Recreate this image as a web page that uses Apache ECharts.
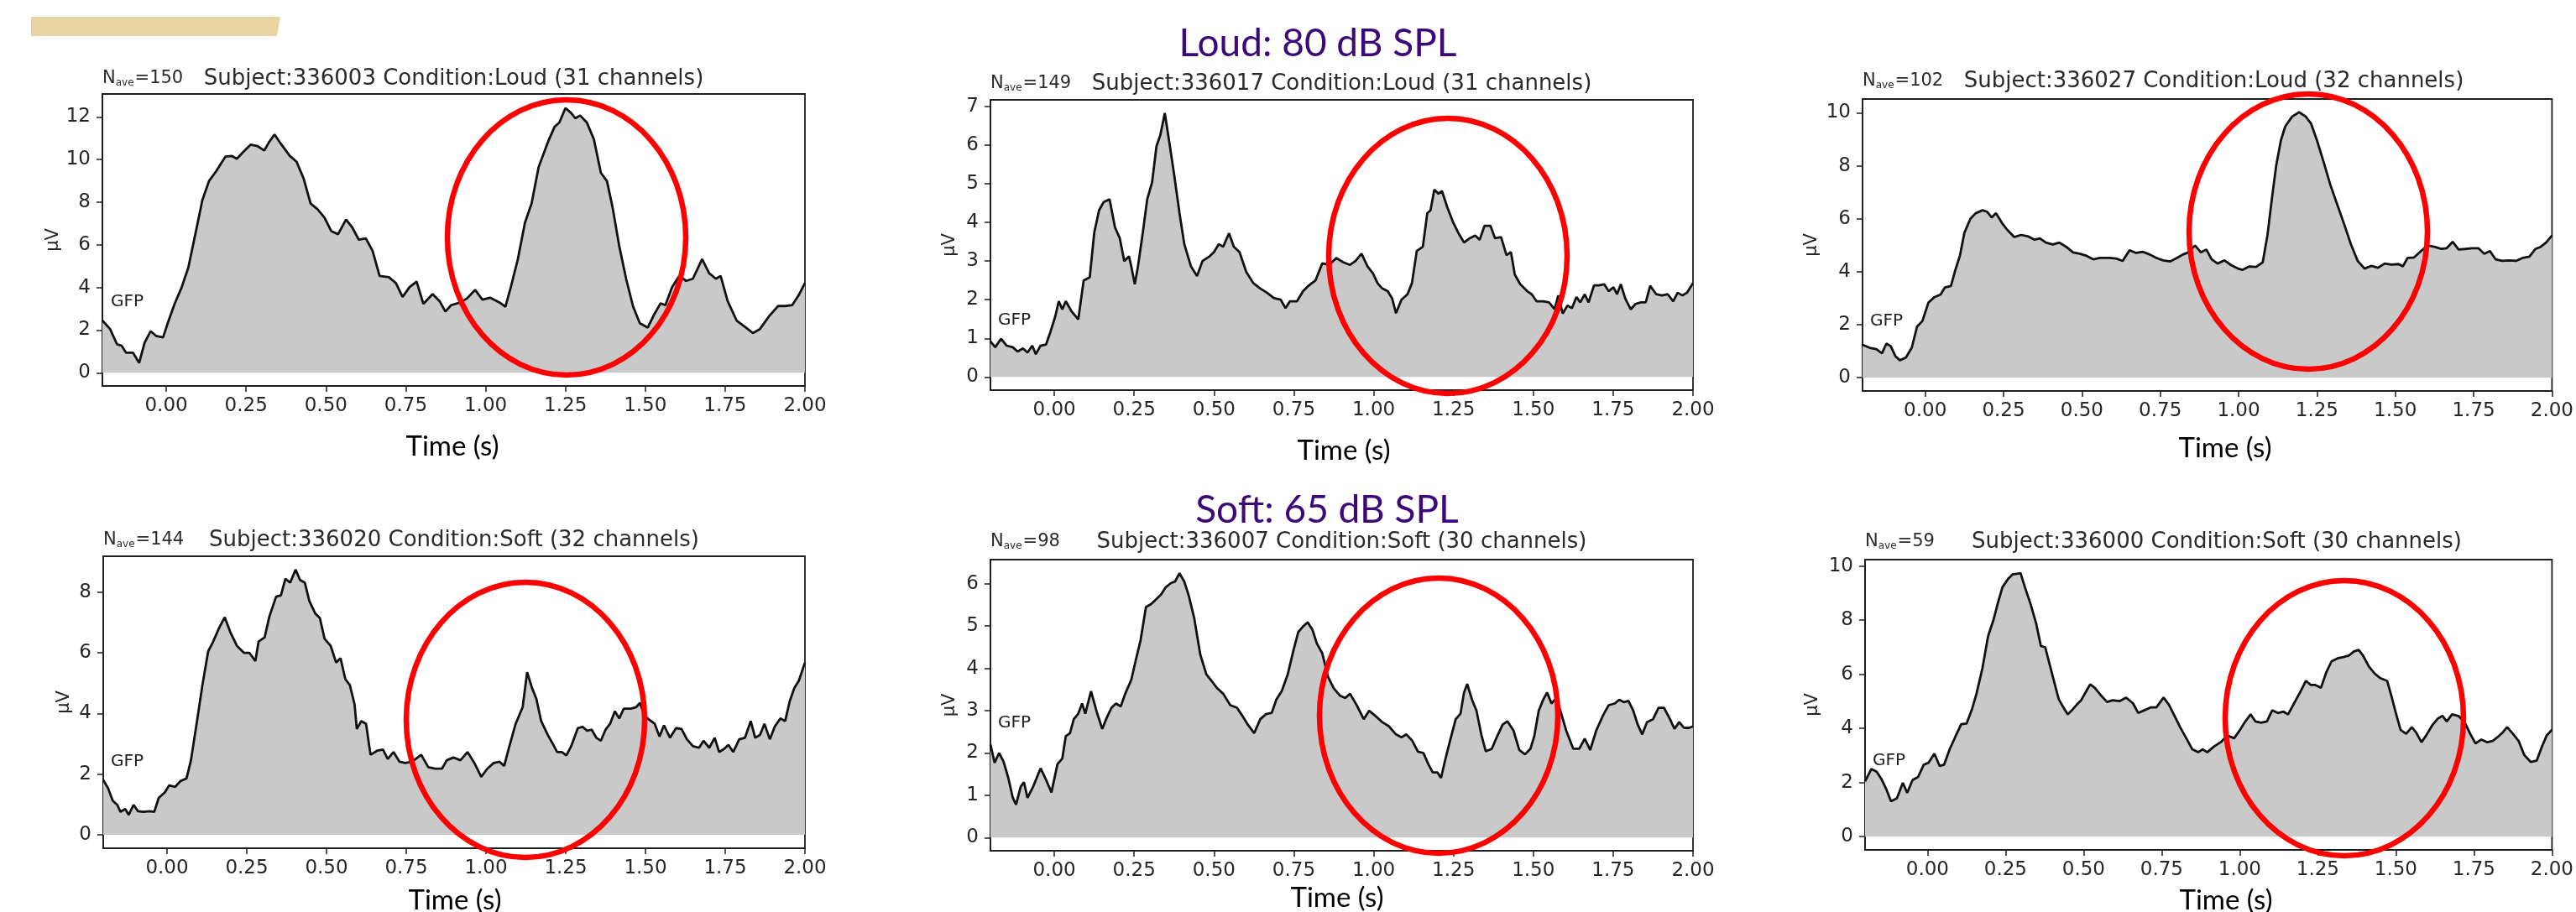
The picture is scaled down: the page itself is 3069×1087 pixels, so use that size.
<!DOCTYPE html>
<html><head><meta charset="utf-8">
<script src="https://cdn.jsdelivr.net/npm/echarts@6/dist/echarts.min.js"></script>
<style>html,body{margin:0;padding:0;background:#fff}#c{width:3069px;height:1087px}</style>
</head><body><div id="c"></div>
<script>
// ---------- data ----------
const xTicks = [0, 0.25, 0.5, 0.75, 1.0, 1.25, 1.5, 1.75, 2.0];

const subjects = ["336003", "336017", "336027", "336020", "336007", "336000"];
const conditions = ["Loud", "Loud", "Loud", "Soft", "Soft", "Soft"];
const channels = [31, 31, 32, 32, 30, 30];
const nAve = [150, 149, 102, 144, 98, 59];

const yTicks1 = [0, 2, 4, 6, 8, 10, 12];
const yTicks2 = [0, 1, 2, 3, 4, 5, 6, 7];
const yTicks3 = [0, 2, 4, 6, 8, 10];
const yTicks4 = [0, 2, 4, 6, 8];
const yTicks5 = [0, 1, 2, 3, 4, 5, 6];
const yTicks6 = [0, 2, 4, 6, 8, 10];

const time1 = [-0.2,-0.176,-0.154,-0.140,-0.126,-0.104,-0.085,-0.068,-0.049,-0.032,-0.010,0.004,0.026,0.048,0.069,0.091,0.113,0.134,0.156,0.185,0.206,0.221,0.242,0.264,0.286,0.307,0.322,0.339,0.358,0.387,0.408,0.430,0.452,0.473,0.495,0.517,0.538,0.563,0.582,0.603,0.625,0.646,0.668,0.697,0.719,0.740,0.762,0.784,0.805,0.834,0.856,0.874,0.892,0.921,0.942,0.967,0.990,1.014,1.043,1.062,1.079,1.101,1.123,1.144,1.166,1.195,1.216,1.231,1.250,1.267,1.281,1.296,1.317,1.339,1.361,1.380,1.397,1.418,1.440,1.462,1.483,1.508,1.527,1.548,1.563,1.584,1.606,1.628,1.649,1.678,1.700,1.721,1.736,1.758,1.786,1.815,1.837,1.859,1.887,1.916,1.938,1.960,1.980,2.0];
const gfp1 = [2.45,2.05,1.33,1.27,0.94,0.94,0.46,1.4,1.95,1.73,1.66,2.3,3.23,4.0,4.93,6.5,8.1,9.0,9.45,10.14,10.17,10.04,10.37,10.7,10.63,10.43,10.82,11.18,10.76,10.17,9.9,9.12,7.94,7.68,7.29,6.64,6.5,7.19,6.83,6.24,6.3,5.72,4.54,4.48,4.21,3.56,4.02,4.28,3.23,3.69,3.36,2.87,3.17,3.3,3.49,3.89,3.43,3.52,3.3,3.1,4.02,5.33,7.03,7.94,9.65,10.82,11.54,11.74,12.42,12.2,11.94,12.07,11.74,10.96,9.38,8.99,7.81,5.98,4.41,3.1,2.32,2.12,2.71,3.26,3.17,4.02,4.54,4.31,4.41,5.33,4.67,4.41,4.54,3.36,2.45,2.12,1.86,2.05,2.64,3.13,3.13,3.17,3.63,4.21];

const time2 = [-0.200,-0.185,-0.167,-0.149,-0.130,-0.115,-0.098,-0.084,-0.069,-0.058,-0.043,-0.026,-0.012,0.003,0.014,0.025,0.036,0.053,0.075,0.092,0.111,0.125,0.140,0.154,0.173,0.190,0.205,0.219,0.234,0.241,0.252,0.262,0.277,0.291,0.306,0.320,0.332,0.346,0.360,0.375,0.392,0.407,0.428,0.447,0.464,0.486,0.500,0.515,0.529,0.547,0.562,0.580,0.601,0.623,0.645,0.666,0.688,0.709,0.724,0.738,0.760,0.779,0.796,0.818,0.839,0.861,0.883,0.904,0.926,0.943,0.962,0.981,0.998,1.012,1.027,1.044,1.058,1.070,1.087,1.106,1.120,1.135,1.154,1.168,1.178,1.190,1.203,1.214,1.231,1.250,1.265,1.283,1.301,1.318,1.332,1.347,1.366,1.380,1.399,1.416,1.430,1.442,1.459,1.481,1.495,1.510,1.531,1.549,1.567,1.578,1.592,1.607,1.621,1.635,1.647,1.661,1.673,1.690,1.705,1.722,1.736,1.751,1.762,1.774,1.788,1.805,1.820,1.837,1.852,1.866,1.885,1.903,1.921,1.938,1.952,1.967,1.981,2.000];
const gfp2 = [0.92,0.77,0.99,0.81,0.77,0.66,0.74,0.63,0.81,0.59,0.81,0.84,1.17,1.57,1.96,1.75,1.96,1.71,1.49,2.5,2.58,3.73,4.31,4.52,4.6,3.87,3.59,3.0,3.12,2.86,2.4,2.86,3.73,4.6,5.03,5.97,6.26,6.83,6.08,5.25,4.24,3.44,2.86,2.61,3.0,3.12,3.23,3.44,3.37,3.72,3.37,3.23,2.72,2.43,2.29,2.18,2.04,2.0,1.78,1.96,1.96,2.22,2.36,2.5,2.94,2.9,3.08,2.97,2.9,3.0,3.19,2.86,2.68,2.43,2.29,2.22,2.03,1.65,2.0,2.14,2.43,3.26,3.37,4.24,4.31,4.85,4.74,4.81,4.38,3.98,3.73,3.48,3.59,3.66,3.55,3.91,3.91,3.59,3.62,3.15,3.23,2.65,2.4,2.22,2.14,1.96,1.96,1.93,1.75,2.11,1.64,1.85,1.78,2.07,1.93,2.14,1.93,2.37,2.37,2.4,2.22,2.32,2.14,2.4,2.03,1.75,1.89,1.93,1.93,2.36,2.14,2.11,2.14,1.96,2.18,2.11,2.18,2.43];

const time3 = [-0.200,-0.177,-0.156,-0.138,-0.124,-0.110,-0.095,-0.081,-0.062,-0.043,-0.026,-0.009,0.010,0.029,0.049,0.063,0.082,0.097,0.111,0.125,0.144,0.161,0.183,0.198,0.212,0.226,0.245,0.262,0.284,0.306,0.327,0.349,0.366,0.385,0.407,0.428,0.450,0.472,0.493,0.515,0.536,0.558,0.587,0.609,0.630,0.652,0.673,0.695,0.717,0.738,0.760,0.782,0.803,0.822,0.839,0.861,0.880,0.897,0.914,0.933,0.955,0.976,0.998,1.012,1.034,1.056,1.077,1.092,1.106,1.120,1.135,1.149,1.171,1.193,1.214,1.231,1.250,1.272,1.293,1.315,1.337,1.358,1.380,1.402,1.423,1.445,1.466,1.488,1.510,1.524,1.539,1.560,1.582,1.603,1.625,1.647,1.664,1.683,1.702,1.722,1.745,1.765,1.784,1.802,1.820,1.841,1.863,1.885,1.906,1.928,1.947,1.964,1.981,2.000];
const gfp3 = [1.24,1.13,1.08,0.92,1.29,1.19,0.81,0.66,0.76,1.13,1.93,2.14,2.83,3.04,3.14,3.41,3.46,4.1,4.62,5.47,6.0,6.21,6.32,6.26,6.05,6.21,5.84,5.58,5.31,5.39,5.34,5.21,5.26,5.1,5.03,5.1,4.94,4.73,4.68,4.6,4.47,4.52,4.52,4.5,4.41,4.81,4.71,4.75,4.65,4.52,4.43,4.39,4.52,4.65,4.73,4.99,4.73,4.84,4.47,4.31,4.43,4.25,4.12,4.07,4.2,4.18,4.36,5.37,6.74,8.01,8.96,9.49,9.86,10.02,9.86,9.6,8.96,8.12,7.27,6.53,5.79,5.05,4.41,4.12,4.22,4.15,4.31,4.27,4.29,4.2,4.52,4.54,4.78,4.99,4.94,4.86,4.89,5.13,4.84,4.86,4.89,4.89,4.68,4.78,4.47,4.41,4.43,4.41,4.52,4.57,4.86,4.94,5.1,5.37];

const time4 = [-0.200,-0.185,-0.170,-0.156,-0.146,-0.131,-0.120,-0.105,-0.091,-0.074,-0.055,-0.040,-0.026,-0.007,0.007,0.025,0.042,0.061,0.075,0.094,0.111,0.129,0.143,0.162,0.181,0.198,0.219,0.241,0.258,0.277,0.287,0.306,0.321,0.342,0.357,0.371,0.386,0.403,0.417,0.432,0.446,0.465,0.479,0.494,0.513,0.530,0.544,0.559,0.573,0.588,0.595,0.609,0.624,0.638,0.660,0.677,0.692,0.710,0.729,0.747,0.768,0.797,0.819,0.840,0.862,0.877,0.898,0.920,0.942,0.963,0.985,1.004,1.024,1.043,1.057,1.071,1.093,1.115,1.129,1.144,1.158,1.173,1.194,1.209,1.223,1.238,1.252,1.267,1.288,1.303,1.317,1.331,1.346,1.360,1.375,1.389,1.404,1.418,1.432,1.454,1.471,1.483,1.497,1.512,1.529,1.544,1.558,1.577,1.596,1.613,1.630,1.649,1.668,1.682,1.700,1.717,1.731,1.746,1.760,1.775,1.794,1.812,1.830,1.844,1.859,1.873,1.890,1.905,1.923,1.938,1.952,1.967,1.981,2.000];
const gfp4 = [1.81,1.54,1.12,0.99,0.76,0.85,0.66,0.99,0.78,0.76,0.78,0.76,1.22,1.4,1.63,1.58,1.77,1.86,2.46,3.75,4.94,6.05,6.33,6.79,7.17,6.69,6.23,6.0,6.0,5.73,6.37,6.51,7.2,7.85,7.89,8.44,8.31,8.74,8.4,8.31,7.71,7.29,7.15,6.46,6.23,5.68,5.82,5.13,4.94,4.3,3.49,3.75,3.66,2.64,2.78,2.81,2.5,2.73,2.41,2.37,2.41,2.64,2.23,2.18,2.18,2.46,2.55,2.46,2.73,2.38,1.91,2.18,2.37,2.41,2.27,2.83,3.66,4.21,5.36,4.85,4.48,3.75,3.29,3.01,2.73,2.73,2.62,2.92,3.52,3.56,3.43,3.47,3.2,3.1,3.47,3.66,4.07,3.84,4.16,4.16,4.21,4.35,3.93,3.79,3.66,3.24,3.61,3.2,3.52,3.49,3.15,2.92,2.87,3.1,2.87,3.2,2.73,2.83,2.97,2.73,3.15,3.2,3.75,3.2,3.29,3.66,3.15,3.56,3.84,3.75,4.39,4.85,5.08,5.68];

const time5 = [-0.200,-0.187,-0.173,-0.159,-0.144,-0.130,-0.120,-0.105,-0.095,-0.084,-0.066,-0.043,-0.026,-0.009,0.010,0.025,0.036,0.049,0.061,0.075,0.087,0.097,0.115,0.133,0.150,0.164,0.179,0.193,0.208,0.222,0.241,0.255,0.270,0.287,0.303,0.317,0.335,0.349,0.366,0.378,0.392,0.407,0.421,0.438,0.457,0.476,0.493,0.510,0.529,0.551,0.572,0.587,0.606,0.626,0.645,0.663,0.681,0.695,0.712,0.731,0.750,0.764,0.779,0.793,0.808,0.822,0.839,0.857,0.875,0.894,0.911,0.926,0.947,0.969,0.986,1.005,1.027,1.048,1.070,1.087,1.102,1.120,1.139,1.156,1.171,1.185,1.200,1.211,1.226,1.243,1.257,1.272,1.283,1.293,1.308,1.322,1.337,1.351,1.370,1.387,1.404,1.419,1.438,1.456,1.474,1.491,1.503,1.517,1.531,1.543,1.557,1.572,1.586,1.603,1.625,1.644,1.661,1.678,1.697,1.719,1.736,1.755,1.769,1.784,1.798,1.813,1.827,1.841,1.856,1.875,1.892,1.909,1.928,1.942,1.957,1.971,1.986,2.000];
const gfp5 = [2.2,1.77,2.0,1.8,1.41,0.94,0.78,1.21,1.31,0.94,1.21,1.64,1.37,1.07,1.74,1.87,2.4,2.47,2.8,2.93,3.17,2.93,3.46,2.97,2.57,2.83,3.07,3.17,3.1,3.4,3.73,4.19,4.66,5.45,5.52,5.62,5.75,5.92,6.02,6.05,6.25,6.05,5.72,5.19,4.33,3.86,3.7,3.53,3.4,3.13,3.07,2.9,2.67,2.47,2.8,2.92,2.95,3.26,3.46,3.86,4.46,4.86,4.99,5.09,4.92,4.59,4.36,3.8,3.53,3.36,3.3,3.4,3.13,2.8,3.0,2.88,2.73,2.63,2.44,2.37,2.44,2.3,2.03,2.0,1.74,1.54,1.54,1.41,1.9,2.4,2.8,2.93,3.43,3.63,3.26,3.0,2.44,2.04,2.1,2.4,2.67,2.75,2.53,2.07,1.97,2.1,2.4,3.0,3.26,3.43,3.17,3.3,2.97,2.53,2.1,2.1,2.34,2.07,2.53,2.9,3.13,3.17,3.26,3.2,3.23,3.0,2.67,2.44,2.73,2.8,3.07,3.07,2.8,2.57,2.73,2.6,2.59,2.63];

const time6 = [-0.200,-0.180,-0.163,-0.148,-0.131,-0.117,-0.098,-0.079,-0.065,-0.048,-0.030,-0.012,0.003,0.022,0.039,0.053,0.071,0.089,0.108,0.125,0.143,0.157,0.176,0.194,0.212,0.226,0.240,0.258,0.272,0.287,0.298,0.312,0.330,0.348,0.363,0.377,0.392,0.406,0.420,0.435,0.449,0.464,0.478,0.492,0.507,0.521,0.536,0.554,0.575,0.593,0.615,0.636,0.658,0.675,0.694,0.716,0.733,0.756,0.773,0.791,0.809,0.831,0.848,0.867,0.881,0.896,0.917,0.939,0.960,0.982,1.001,1.018,1.035,1.050,1.068,1.087,1.104,1.122,1.140,1.155,1.174,1.194,1.212,1.227,1.241,1.260,1.277,1.294,1.313,1.332,1.349,1.366,1.381,1.395,1.414,1.433,1.450,1.472,1.486,1.500,1.515,1.533,1.551,1.565,1.582,1.597,1.616,1.634,1.649,1.663,1.680,1.702,1.721,1.738,1.755,1.774,1.793,1.810,1.827,1.842,1.856,1.875,1.893,1.911,1.932,1.951,1.968,1.983,2.000];
const gfp6 = [2.04,2.5,2.4,2.14,1.73,1.31,1.42,1.99,1.62,2.09,2.21,2.66,2.73,3.07,2.61,2.66,3.23,3.69,4.16,4.18,4.73,5.29,6.23,7.41,8.04,8.66,9.22,9.53,9.69,9.72,9.74,9.22,8.6,7.88,7.05,7.0,6.33,5.71,5.09,4.78,4.52,4.69,4.88,5.04,5.35,5.63,5.5,5.24,4.98,5.04,5.01,5.14,4.93,4.57,4.67,4.78,4.78,5.14,4.88,4.47,4.05,3.59,3.23,3.12,3.23,3.12,3.33,3.49,3.74,3.64,3.95,4.26,4.52,4.26,4.21,4.26,4.67,4.57,4.62,4.52,4.93,5.35,5.76,5.61,5.61,5.5,6.07,6.48,6.59,6.64,6.69,6.85,6.9,6.69,6.28,6.02,5.86,5.76,5.19,4.57,3.95,3.8,4.05,3.85,3.49,3.74,4.11,4.36,4.47,4.26,4.52,4.45,4.21,3.8,3.45,3.59,3.49,3.54,3.69,3.85,4.05,3.8,3.54,3.02,2.76,2.81,3.33,3.74,3.95];

// ---------- layout / style ----------
const times = [time1, time2, time3, time4, time5, time6];
const gfps = [gfp1, gfp2, gfp3, gfp4, gfp5, gfp6];
const yTicks = [yTicks1, yTicks2, yTicks3, yTicks4, yTicks5, yTicks6];
const yMin = [-0.62, -0.34, -0.5, -0.44, -0.31, -0.49];
const yMax = [13.08, 7.17, 10.52, 9.18, 6.57, 10.24];
const grids = [
  {left: 122, top: 112, width: 837, height: 348},
  {left: 1180, top: 119, width: 837, height: 346},
  {left: 2219, top: 118, width: 837, height: 348},
  {left: 123, top: 663, width: 836, height: 348},
  {left: 1180, top: 667, width: 837, height: 347},
  {left: 2222, top: 667, width: 838, height: 346}
];
const nameGaps = [48, 38, 50, 36, 38, 52];
const titleY = [94, 100, 97, 644, 646, 646];
const gfpPos = [[132,360],[1189,382],[2228,383],[132,908],[1189,862],[2231,907]];
const timeLabelPos = [[539,532],[1601,537],[2651,534],[542,1073],[1593,1070],[2652,1073]];
const ellipses = [[675,283],[1725,305],[2750,276],[626,858],[1714,853],[2793,856]];

const MPL = '"DejaVu Sans", sans-serif';
const SLIDE = 'Lato, "Open Sans", sans-serif';
const INK = '#1e1e1e';

const option = {
  animation: false,
  backgroundColor: '#ffffff',
  grid: [], xAxis: [], yAxis: [], series: [], graphic: []
};

for (let i = 0; i < 6; i++) {
  const g = grids[i];
  option.grid.push(Object.assign({show: true, borderColor: INK, borderWidth: 1.8, backgroundColor: '#fff', containLabel: false}, g));
  option.xAxis.push({
    type: 'value', gridIndex: i, min: -0.2, max: 2.0,
    axisLine: {show: true, onZero: false, lineStyle: {color: INK, width: 1.8}},
    axisTick: {show: true, length: 7, customValues: xTicks, lineStyle: {color: INK, width: 1.5}},
    axisLabel: {show: true, customValues: xTicks, margin: 13, fontFamily: MPL, fontSize: 23, color: '#262626',
      formatter: v => v.toFixed(2)},
    splitLine: {show: false}
  });
  option.yAxis.push({
    type: 'value', gridIndex: i, min: yMin[i], max: yMax[i],
    name: 'µV', nameLocation: 'middle', nameRotate: 90, nameGap: nameGaps[i],
    nameTextStyle: {fontFamily: MPL, fontSize: 21, color: '#262626'},
    axisLine: {show: true, onZero: false, lineStyle: {color: INK, width: 1.8}},
    axisTick: {show: true, length: 7, customValues: yTicks[i], lineStyle: {color: INK, width: 1.5}},
    axisLabel: {show: true, customValues: yTicks[i], margin: 14, fontFamily: MPL, fontSize: 23, color: '#262626'},
    splitLine: {show: false}
  });
  option.series.push({
    type: 'line', xAxisIndex: i, yAxisIndex: i,
    data: times[i].map((t, k) => [t, gfps[i][k]]),
    showSymbol: false, symbol: 'none', smooth: false, clip: true,
    lineStyle: {color: '#111', width: 2.8},
    areaStyle: {color: '#c9c9c9', opacity: 1, origin: 0},
    z: 2
  });
  // panel title
  option.graphic.push({
    type: 'text', z: 10,
    style: {text: 'Subject:' + subjects[i] + ' Condition:' + conditions[i] + ' (' + channels[i] + ' channels)',
      x: g.left + g.width / 2, y: titleY[i], align: 'center', verticalAlign: 'middle',
      font: '26px ' + MPL, fill: '#2a2a2a'}
  });
  option.graphic.push({
    type: 'text', z: 10,
    style: {text: '{n|N}{s|ave}{n|=' + nAve[i] + '}',
      x: g.left, y: titleY[i], align: 'left', verticalAlign: 'middle',
      rich: {
        n: {fontSize: 21, fontFamily: MPL, fill: '#2a2a2a', lineHeight: 27, verticalAlign: 'middle'},
        s: {fontSize: 12, fontFamily: MPL, fill: '#2a2a2a', lineHeight: 12, verticalAlign: 'bottom', padding: [0, 1, 3, 0]}
      }}
  });
  // GFP label
  option.graphic.push({
    type: 'text', z: 10,
    style: {text: 'GFP', x: gfpPos[i][0], y: gfpPos[i][1], align: 'left', verticalAlign: 'middle',
      font: '20px ' + MPL, fill: INK}
  });
  // Time (s)
  option.graphic.push({
    type: 'text', z: 10,
    style: {text: 'Time (s)', x: timeLabelPos[i][0], y: timeLabelPos[i][1], align: 'center', verticalAlign: 'middle',
      font: '33px ' + SLIDE, fill: '#000'}
  });
  // red highlight ellipse
  option.graphic.push({
    type: 'ellipse', z: 20,
    shape: {cx: ellipses[i][0], cy: ellipses[i][1], rx: 142, ry: 164},
    style: {fill: null, stroke: '#ff0000', lineWidth: 6.5}
  });
}

// slide decorations
option.graphic.push({
  type: 'polygon', z: 5,
  shape: {points: [[37, 20], [334, 20], [330, 43], [37, 43]]},
  style: {fill: '#e8d4a0'}
});
option.graphic.push({
  type: 'text', z: 10,
  style: {text: 'Loud: 80 dB SPL', x: 1570, y: 52, align: 'center', verticalAlign: 'middle',
    font: '46px ' + SLIDE, fill: '#3b0a78'}
});
option.graphic.push({
  type: 'text', z: 10,
  style: {text: 'Soft: 65 dB SPL', x: 1581, y: 608, align: 'center', verticalAlign: 'middle',
    font: '46px ' + SLIDE, fill: '#3b0a78'}
});

const chart = echarts.init(document.getElementById('c'), null, {renderer: 'canvas'});
chart.setOption(option);
</script>
</body></html>
